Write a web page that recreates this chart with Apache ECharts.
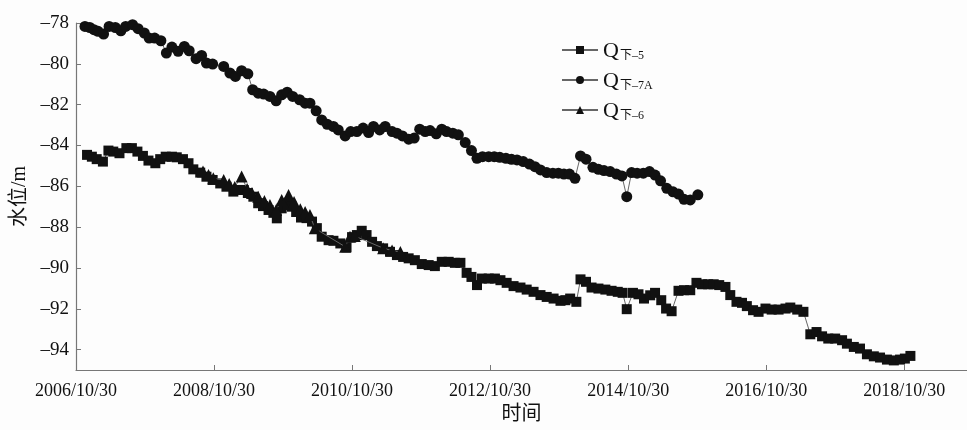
<!DOCTYPE html>
<html lang="zh">
<head>
    <meta charset="UTF-8">
    <script src="https://cdn.jsdelivr.net/npm/echarts@6/dist/echarts.min.js"></script>
    <title>水位变化</title>
    <style>
        html, body { margin: 0; padding: 0; background: #fdfdfd; }
        #chart { width: 967px; height: 430px; }
    </style>
</head>
<body>
    <div id="chart"></div>
    <script type="text/javascript">
        // time as decimal years, level in m
        var xTickLabels = ['2006/10/30', '2008/10/30', '2010/10/30', '2012/10/30', '2014/10/30', '2016/10/30', '2018/10/30'];
        var xAxisEnd = 2019.74;
        var yTicks = [-94, -92, -90, -88, -86, -84, -82, -80, -78];
        var yMin = -95, yMax = -78;

        var seriesNames = ['Q下\u20135', 'Q下\u20137A', 'Q下\u20136'];

        // Q下-5
        var q5Time = [2006.99, 2007.06, 2007.13, 2007.22, 2007.30, 2007.37, 2007.46, 2007.56, 2007.64, 2007.72,
            2007.80, 2007.88, 2007.98, 2008.05, 2008.13, 2008.22, 2008.29, 2008.38, 2008.46, 2008.53,
            2008.63, 2008.72, 2008.81, 2008.92, 2009.01, 2009.11, 2009.18, 2009.26, 2009.32, 2009.40,
            2009.47, 2009.54, 2009.62, 2009.69, 2009.74, 2009.81, 2009.89, 2009.96, 2010.02, 2010.09,
            2010.17, 2010.25, 2010.32, 2010.39, 2010.49, 2010.56, 2010.66, 2010.75, 2010.83, 2010.90,
            2010.97, 2011.04, 2011.12, 2011.19, 2011.28, 2011.38, 2011.48, 2011.57, 2011.65, 2011.74,
            2011.84, 2011.94, 2012.03, 2012.13, 2012.23, 2012.32, 2012.40, 2012.49, 2012.56, 2012.64,
            2012.71, 2012.81, 2012.90, 2012.98, 2013.07, 2013.17, 2013.27, 2013.36, 2013.46, 2013.56,
            2013.65, 2013.75, 2013.85, 2013.92, 2013.99, 2014.08, 2014.14, 2014.22, 2014.30, 2014.40,
            2014.50, 2014.59, 2014.68, 2014.75, 2014.81, 2014.90, 2014.98, 2015.06, 2015.15, 2015.22,
            2015.31, 2015.38, 2015.46, 2015.56, 2015.64, 2015.73, 2015.82, 2015.90, 2015.99, 2016.07,
            2016.15, 2016.24, 2016.31, 2016.40, 2016.48, 2016.55, 2016.64, 2016.72, 2016.82, 2016.91,
            2017.01, 2017.11, 2017.18, 2017.28, 2017.37, 2017.47, 2017.56, 2017.64, 2017.73, 2017.83,
            2017.93, 2018.00, 2018.10, 2018.19, 2018.29, 2018.39, 2018.48, 2018.58, 2018.68, 2018.77,
            2018.84, 2018.92];
        var q5Level = [-84.46, -84.55, -84.67, -84.79, -84.25, -84.30, -84.38, -84.13, -84.13, -84.30,
            -84.51, -84.74, -84.87, -84.67, -84.55, -84.55, -84.58, -84.67, -84.87, -85.17,
            -85.33, -85.53, -85.69, -85.86, -86.02, -86.26, -86.18, -86.18, -86.33, -86.51,
            -86.83, -86.97, -87.16, -87.30, -87.57, -87.08, -86.92, -87.00, -87.26, -87.53,
            -87.56, -87.73, -88.05, -88.47, -88.64, -88.67, -88.80, -88.99, -88.49, -88.39,
            -88.18, -88.39, -88.72, -88.93, -89.04, -89.21, -89.37, -89.46, -89.53, -89.62,
            -89.81, -89.86, -89.91, -89.70, -89.70, -89.75, -89.75, -90.24, -90.44, -90.84,
            -90.52, -90.52, -90.52, -90.60, -90.73, -90.89, -90.96, -91.06, -91.17, -91.33,
            -91.42, -91.50, -91.61, -91.58, -91.50, -91.66, -90.56, -90.68, -90.96, -91.01,
            -91.06, -91.12, -91.17, -91.22, -92.02, -91.22, -91.29, -91.50, -91.34, -91.22,
            -91.58, -91.99, -92.12, -91.12, -91.09, -91.09, -90.73, -90.80, -90.80, -90.80,
            -90.84, -90.93, -91.33, -91.66, -91.71, -91.87, -92.07, -92.15, -91.99, -92.04,
            -92.04, -91.99, -91.94, -92.04, -92.15, -93.25, -93.14, -93.35, -93.46, -93.46,
            -93.54, -93.71, -93.87, -93.95, -94.23, -94.33, -94.39, -94.49, -94.53, -94.49,
            -94.44, -94.31];

        // Q下-7A
        var q7aTime = [2006.96, 2007.03, 2007.09, 2007.15, 2007.23, 2007.31, 2007.40, 2007.48, 2007.55, 2007.65,
            2007.73, 2007.82, 2007.89, 2007.97, 2008.06, 2008.14, 2008.22, 2008.31, 2008.40, 2008.47,
            2008.57, 2008.65, 2008.72, 2008.81, 2008.97, 2009.06, 2009.14, 2009.23, 2009.32, 2009.39,
            2009.47, 2009.55, 2009.64, 2009.73, 2009.81, 2009.89, 2009.97, 2010.07, 2010.15, 2010.22,
            2010.31, 2010.39, 2010.47, 2010.56, 2010.63, 2010.73, 2010.81, 2010.90, 2010.99, 2011.07,
            2011.14, 2011.23, 2011.31, 2011.41, 2011.48, 2011.56, 2011.65, 2011.73, 2011.81, 2011.89,
            2011.96, 2012.05, 2012.13, 2012.20, 2012.29, 2012.37, 2012.47, 2012.56, 2012.64, 2012.72,
            2012.81, 2012.89, 2012.97, 2013.06, 2013.14, 2013.22, 2013.31, 2013.40, 2013.48, 2013.56,
            2013.65, 2013.74, 2013.82, 2013.90, 2013.98, 2014.06, 2014.14, 2014.22, 2014.32, 2014.40,
            2014.48, 2014.57, 2014.66, 2014.74, 2014.81, 2014.88, 2014.96, 2015.05, 2015.14, 2015.22,
            2015.30, 2015.39, 2015.48, 2015.56, 2015.64, 2015.73, 2015.84];
        var q7aLevel = [-78.17, -78.22, -78.33, -78.41, -78.54, -78.17, -78.22, -78.38, -78.17, -78.08,
            -78.28, -78.49, -78.74, -78.74, -78.87, -79.47, -79.18, -79.39, -79.15, -79.36,
            -79.75, -79.59, -79.96, -80.01, -80.13, -80.45, -80.62, -80.34, -80.49, -81.27,
            -81.44, -81.48, -81.60, -81.81, -81.52, -81.39, -81.60, -81.76, -81.93, -81.93,
            -82.30, -82.75, -82.96, -83.07, -83.24, -83.53, -83.32, -83.32, -83.15, -83.37,
            -83.07, -83.24, -83.07, -83.32, -83.40, -83.53, -83.69, -83.64, -83.20, -83.32,
            -83.27, -83.43, -83.20, -83.32, -83.40, -83.48, -83.86, -84.25, -84.63, -84.55,
            -84.55, -84.55, -84.58, -84.63, -84.68, -84.71, -84.79, -84.91, -85.04, -85.20,
            -85.33, -85.36, -85.36, -85.40, -85.40, -85.61, -84.51, -84.67, -85.07, -85.17,
            -85.23, -85.28, -85.40, -85.49, -86.51, -85.33, -85.36, -85.36, -85.28, -85.45,
            -85.73, -86.10, -86.27, -86.38, -86.64, -86.67, -86.42];

        // Q下-6
        var q6Time = [2008.67, 2008.75, 2008.82, 2008.97, 2009.05, 2009.13, 2009.23, 2009.31, 2009.38, 2009.47,
            2009.56, 2009.64, 2009.73, 2009.81, 2009.91, 2009.99, 2010.08, 2010.15, 2010.22, 2010.29,
            2010.73, 2010.80, 2010.87, 2011.28, 2011.41, 2011.53];
        var q6Level = [-85.27, -85.45, -85.61, -85.69, -85.89, -86.03, -85.52, -86.13, -86.33, -86.51,
            -86.72, -86.92, -87.16, -86.67, -86.43, -86.77, -87.13, -87.26, -87.41, -88.06,
            -88.96, -88.47, -88.44, -89.03, -89.15, -89.22];

        var T0 = 2006 + 303 / 365;   // 2006/10/30
        function tickOffset(label) {
            return parseInt(label.slice(0, 4), 10) - 2006;
        }
        var xTickValues = xTickLabels.map(tickOffset);
        function pairs(times, levels) {
            return times.map(function (t, i) { return [t - T0, levels[i]]; });
        }

        var serif = "'Liberation Serif', 'Times New Roman', serif";
        var cjkSerif = "'Liberation Serif', 'Noto Sans CJK SC', serif";
        var ink = '#111';

        var Chart = echarts.init(document.getElementById('chart'));
        var option = {
            backgroundColor: '#fdfdfd',
            animation: false,
            grid: { left: 76, right: 0, top: 23, bottom: 60 },
            legend: {
                orient: 'vertical',
                left: 556,
                top: 35,
                itemWidth: 36,
                itemHeight: 10,
                itemGap: 8,
                data: seriesNames,
                formatter: function (name) {
                    return '{q|Q}{s|' + name.slice(1) + '}';
                },
                textStyle: {
                    rich: {
                        q: { fontFamily: serif, fontSize: 22, color: ink, lineHeight: 24, verticalAlign: 'bottom' },
                        s: { fontFamily: cjkSerif, fontSize: 12, color: ink, lineHeight: 8, verticalAlign: 'bottom', padding: [0, 0, 0, 1] }
                    }
                }
            },
            xAxis: {
                type: 'value',
                min: 0,
                max: xAxisEnd - T0,
                name: '时间',
                nameLocation: 'middle',
                nameGap: 32,
                nameTextStyle: { fontFamily: cjkSerif, fontSize: 20, color: ink },
                axisLine: { lineStyle: { color: '#777', width: 1.2 } },
                axisTick: { inside: true, length: 5, customValues: xTickValues, lineStyle: { color: '#777' } },
                axisLabel: {
                    customValues: xTickValues,
                    margin: 12,
                    fontFamily: serif,
                    fontSize: 18,
                    color: ink,
                    formatter: function (v) { return xTickLabels[xTickValues.indexOf(v)] || ''; }
                },
                splitLine: { show: false }
            },
            yAxis: {
                type: 'value',
                min: yMin,
                max: yMax,
                name: '水位/m',
                nameLocation: 'middle',
                nameGap: 41,
                nameTextStyle: { fontFamily: cjkSerif, fontSize: 20, color: ink },
                axisLine: { show: true, lineStyle: { color: '#777', width: 1.2 } },
                axisTick: { show: true, inside: true, length: 5, customValues: yTicks, lineStyle: { color: '#777' } },
                axisLabel: {
                    customValues: yTicks,
                    margin: 7,
                    fontFamily: serif,
                    fontSize: 19,
                    color: ink,
                    formatter: function (v) { return String(v).replace('-', '\u2013'); }
                },
                splitLine: { show: false }
            },
            series: [
                {
                    name: seriesNames[0],
                    type: 'line',
                    data: pairs(q5Time, q5Level),
                    symbol: 'rect',
                    symbolSize: 10,
                    showAllSymbol: true,
                    itemStyle: { color: ink },
                    lineStyle: { color: '#666', width: 1 },
                    z: 3
                },
                {
                    name: seriesNames[1],
                    type: 'line',
                    data: pairs(q7aTime, q7aLevel),
                    symbol: 'circle',
                    symbolSize: 11,
                    showAllSymbol: true,
                    itemStyle: { color: ink },
                    lineStyle: { color: '#666', width: 1 },
                    z: 3
                },
                {
                    name: seriesNames[2],
                    type: 'line',
                    data: pairs(q6Time, q6Level),
                    symbol: 'triangle',
                    symbolSize: 12,
                    showAllSymbol: true,
                    itemStyle: { color: ink },
                    lineStyle: { color: '#666', width: 1 },
                    z: 4
                }
            ]
        };
        Chart.setOption(option);
    </script>
</body>
</html>
